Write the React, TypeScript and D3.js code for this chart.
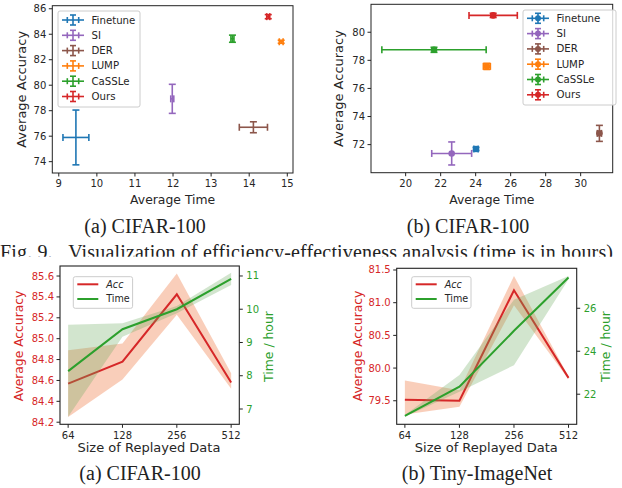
import React from "react";
import * as d3 from "d3";

// methods shared by the two scatter panels
const methods = ["Finetune", "SI", "DER", "LUMP", "CaSSLe", "Ours"];
const methodColors = ["#1f77b4", "#9467bd", "#8c564b", "#ff7f0e", "#2ca02c", "#d62728"];

// (a) CIFAR-100: time vs accuracy
const timeA = [9.45, 11.98, 14.11, 14.84, 13.56, 14.5];
const timeErrA = [0.34, 0.04, 0.37, 0.05, 0.04, 0.04];
const accA = [75.9, 78.93, 76.7, 83.41, 83.65, 85.38];
const accErrA = [2.15, 1.14, 0.43, 0.12, 0.28, 0.16];
const xTicksA = [9, 10, 11, 12, 13, 14, 15];
const yTicksA = [74, 76, 78, 80, 82, 84, 86];

// (b) CIFAR-100: time vs accuracy
const timeB = [24.02, 22.63, 31.07, 24.64, 21.62, 25.0];
const timeErrB = [0.12, 1.14, 0.12, 0.2, 2.98, 1.38];
const accB = [71.69, 71.37, 72.8, 77.57, 78.75, 81.2];
const accErrB = [0.12, 0.82, 0.57, 0.22, 0.18, 0.15];
const xTicksB = [20, 22, 24, 26, 28, 30];
const yTicksB = [72, 74, 76, 78, 80];

// replay size study
const replaySizes = ["64", "128", "256", "512"];

const cifarAcc = [84.57, 84.78, 85.425, 84.58];
const cifarAccLo = [84.25, 84.61, 85.23, 84.52];
const cifarAccHi = [84.89, 84.955, 85.625, 84.67];
const cifarTime = [8.14, 9.4, 10.0, 10.91];
const cifarTimeLo = [6.77, 9.17, 9.88, 10.73];
const cifarTimeHi = [9.53, 9.58, 10.1, 11.1];
const cifarAccTicks = [84.2, 84.4, 84.6, 84.8, 85.0, 85.2, 85.4, 85.6];
const cifarTimeTicks = [7, 8, 9, 10, 11];

const tinyAcc = [79.515, 79.5, 81.19, 79.85];
const tinyAccLo = [79.29, 79.41, 80.96, 79.83];
const tinyAccHi = [79.81, 79.66, 81.41, 79.87];
const tinyTime = [20.99, 22.35, 24.95, 27.43];
const tinyTimeLo = [20.95, 22.12, 23.35, 27.35];
const tinyTimeHi = [21.03, 22.9, 26.4, 27.5];
const tinyAccTicks = [79.5, 80.0, 80.5, 81.0, 81.5];
const tinyTimeTicks = [22, 24, 26];

const FONT = "'DejaVu Sans', sans-serif";
const SERIF = "'Liberation Serif', 'Times New Roman', serif";
const RED = "#d62728";
const GREEN = "#2ca02c";
const INK = "#262626";

function ScatterPanel(props: any) {
  const { xDomain, xRange, yDomain, yRange, xTicks, yTicks, xs, xErr, ys, yErr, markers, legend, yLabelX } = props;
  const x = d3.scaleLinear().domain(xDomain).range(xRange);
  const y = d3.scaleLinear().domain(yDomain).range(yRange);
  const [x0, x1] = xRange;
  const [y1, y0] = yRange; // y1 bottom, y0 top
  const cap = 3.5;
  return (
    <g>
      {methods.map((m, i) => {
        const cx = x(xs[i]);
        const cy = y(ys[i]);
        const xa = x(xs[i] - xErr[i]);
        const xb = x(xs[i] + xErr[i]);
        const ya = y(ys[i] - yErr[i]);
        const yb = y(ys[i] + yErr[i]);
        const c = methodColors[i];
        return (
          <g key={m} stroke={c} strokeWidth={1.6} fill="none">
            <line x1={xa} x2={xb} y1={cy} y2={cy} />
            <line x1={xa} x2={xa} y1={cy - cap} y2={cy + cap} />
            <line x1={xb} x2={xb} y1={cy - cap} y2={cy + cap} />
            <line x1={cx} x2={cx} y1={ya} y2={yb} />
            <line x1={cx - cap} x2={cx + cap} y1={ya} y2={ya} />
            <line x1={cx - cap} x2={cx + cap} y1={yb} y2={yb} />
            {markers && <circle cx={cx} cy={cy} r={3.3} fill={c} stroke="none" />}
          </g>
        );
      })}
      <rect x={x0} y={y0} width={x1 - x0} height={y1 - y0} fill="none" stroke="#222" strokeWidth={1} />
      {xTicks.map((t: number) => (
        <g key={"x" + t}>
          <line x1={x(t)} x2={x(t)} y1={y1} y2={y1 + 3.5} stroke="#222" />
          <text x={x(t)} y={y1 + 14} textAnchor="middle" fontSize={10} fontFamily={FONT} fill={INK}>
            {t}
          </text>
        </g>
      ))}
      {yTicks.map((t: number) => (
        <g key={"y" + t}>
          <line x1={x0 - 3.5} x2={x0} y1={y(t)} y2={y(t)} stroke="#222" />
          <text x={x0 - 6} y={y(t)} dy="0.35em" textAnchor="end" fontSize={10} fontFamily={FONT} fill={INK}>
            {t}
          </text>
        </g>
      ))}
      <text x={(x0 + x1) / 2} y={204} textAnchor="middle" fontSize={12.4} fontFamily={FONT} fill={INK}>
        Average Time
      </text>
      <text
        transform={`translate(${yLabelX},${(y0 + y1) / 2}) rotate(-90)`}
        dy="0.35em"
        textAnchor="middle"
        fontSize={13}
        fontFamily={FONT}
        fill={INK}
      >
        Average Accuracy
      </text>
      <g>
        <rect x={legend.x} y={legend.y} width={legend.w} height={legend.h} rx={2} fill="#fff" fillOpacity={0.8} stroke="#ccc" />
        {methods.map((m, i) => {
          const cy = legend.rowY + i * 15.3;
          const gx = legend.x + 4;
          const cx = gx + 11;
          const c = methodColors[i];
          return (
            <g key={"l" + m}>
              <g stroke={c} strokeWidth={1.6}>
                <line x1={gx} x2={gx + 22} y1={cy} y2={cy} />
                <line x1={cx - 5.7} x2={cx - 5.7} y1={cy - 3} y2={cy + 3} />
                <line x1={cx + 5.7} x2={cx + 5.7} y1={cy - 3} y2={cy + 3} />
                <line x1={cx} x2={cx} y1={cy - 5} y2={cy + 5} />
                <line x1={cx - 3} x2={cx + 3} y1={cy - 5} y2={cy - 5} />
                <line x1={cx - 3} x2={cx + 3} y1={cy + 5} y2={cy + 5} />
              </g>
              {markers && <circle cx={cx} cy={cy} r={3} fill={c} />}
              <text x={legend.x + 33.5} y={cy} dy="0.35em" fontSize={10.2} fontFamily={FONT} fill={INK}>
                {m}
              </text>
            </g>
          );
        })}
      </g>
    </g>
  );
}

function ReplayPanel(props: any) {
  const { xRange, yRange, accDomain, timeDomain, acc, accLo, accHi, time, timeLo, timeHi, accTicks, timeTicks, accFmt, labels, legendX } = props;
  const xs = d3.scaleLinear().domain([-0.15, replaySizes.length - 1 + 0.15]).range(xRange);
  const px = (i: number) => xs(i);
  const yA = d3.scaleLinear().domain(accDomain).range(yRange);
  const yT = d3.scaleLinear().domain(timeDomain).range(yRange);
  const [x0, x1] = xRange;
  const [y1, y0] = yRange;
  const idx = replaySizes.map((_, i) => i);

  const accArea = d3.area<number>().x((i) => px(i)).y0((i) => yA(accLo[i])).y1((i) => yA(accHi[i]));
  const accLine = d3.line<number>().x((i) => px(i)).y((i) => yA(acc[i]));
  const timeArea = d3.area<number>().x((i) => px(i)).y0((i) => yT(timeLo[i])).y1((i) => yT(timeHi[i]));
  const timeLine = d3.line<number>().x((i) => px(i)).y((i) => yT(time[i]));

  return (
    <g>
      <path d={accArea(idx) || ""} fill="#f4a582" fillOpacity={0.55} />
      <path d={accLine(idx) || ""} fill="none" stroke={RED} strokeWidth={2} />
      <path d={timeArea(idx) || ""} fill="#6aaa5e" fillOpacity={0.3} />
      <path d={timeLine(idx) || ""} fill="none" stroke={GREEN} strokeWidth={2} />
      <rect x={x0} y={y0} width={x1 - x0} height={y1 - y0} fill="none" stroke="#222" strokeWidth={1.1} />
      {replaySizes.map((s, i) => (
        <g key={s}>
          <line x1={px(i)} x2={px(i)} y1={y1} y2={y1 + 3.5} stroke="#222" />
          <text x={px(i)} y={y1 + 15} textAnchor="middle" fontSize={10} fontFamily={FONT} fill={INK}>
            {s}
          </text>
        </g>
      ))}
      {accTicks.map((t: number) => (
        <g key={"a" + t}>
          <line x1={x0 - 3.5} x2={x0} y1={yA(t)} y2={yA(t)} stroke="#222" />
          <text x={x0 - 6} y={yA(t)} dy="0.35em" textAnchor="end" fontSize={10} fontFamily={FONT} fill={RED}>
            {d3.format(accFmt)(t)}
          </text>
        </g>
      ))}
      {timeTicks.map((t: number) => (
        <g key={"t" + t}>
          <line x1={x1} x2={x1 + 3.5} y1={yT(t)} y2={yT(t)} stroke="#222" />
          <text x={x1 + 7} y={yT(t)} dy="0.35em" textAnchor="start" fontSize={10} fontFamily={FONT} fill={GREEN}>
            {t}
          </text>
        </g>
      ))}
      <text x={(x0 + x1) / 2 + labels.xShift} y={452} textAnchor="middle" fontSize={13} fontFamily={FONT} fill={INK}>
        Size of Replayed Data
      </text>
      <text transform={`translate(${labels.left},346) rotate(-90)`} dy="0.35em" textAnchor="middle" fontSize={12.3} fontFamily={FONT} fill={RED}>
        Average Accuracy
      </text>
      <text transform={`translate(${labels.right},346.5) rotate(-90)`} dy="0.35em" textAnchor="middle" fontSize={12.4} fontFamily={FONT} fill={GREEN}>
        Time / hour
      </text>
      <g>
        <rect x={legendX} y={276.7} width={59.3} height={31.6} rx={2} fill="#fff" fillOpacity={0.8} stroke="#ccc" />
        <line x1={legendX + 4} x2={legendX + 25} y1={284.3} y2={284.3} stroke={RED} strokeWidth={2} />
        <text x={legendX + 33} y={284.3} dy="0.35em" fontSize={9.6} fontStyle="italic" fontFamily={FONT} fill={INK}>
          Acc
        </text>
        <line x1={legendX + 4} x2={legendX + 25} y1={299} y2={299} stroke={GREEN} strokeWidth={2} />
        <text x={legendX + 33} y={299} dy="0.35em" fontSize={9.6} fontFamily={FONT} fill={INK}>
          Time
        </text>
      </g>
    </g>
  );
}

export default function App() {
  return (
    <svg width={622} height={488} style={{ position: "absolute", left: 0, top: 0, background: "#fff" }}>
      <rect width={622} height={488} fill="#fff" />
      <ScatterPanel
        xDomain={[8.83, 15.15]}
        xRange={[52.3, 293]}
        yDomain={[73.11, 86.24]}
        yRange={[173, 5.7]}
        xTicks={xTicksA}
        yTicks={yTicksA}
        xs={timeA}
        xErr={timeErrA}
        ys={accA}
        yErr={accErrA}
        markers={false}
        legend={{ x: 58, y: 11, w: 82, h: 96, rowY: 20 }}
        yLabelX={21.7}
      />
      <ScatterPanel
        xDomain={[18.02, 31.83]}
        xRange={[371, 612.7]}
        yDomain={[70.0, 81.99]}
        yRange={[172.7, 4.3]}
        xTicks={xTicksB}
        yTicks={yTicksB}
        xs={timeB}
        xErr={timeErrB}
        ys={accB}
        yErr={accErrB}
        markers={true}
        legend={{ x: 523, y: 10, w: 93, h: 95, rowY: 18.3 }}
        yLabelX={338.5}
      />
      <text x={145} y={233} textAnchor="middle" fontSize={20} fontFamily={SERIF} fill="#222">
        (a) CIFAR-100
      </text>
      <text x={468} y={233} textAnchor="middle" fontSize={20} fontFamily={SERIF} fill="#222">
        (b) CIFAR-100
      </text>
      <defs>
        <clipPath id="capClip">
          <rect x={0} y={238} width={622} height={18.7} />
        </clipPath>
      </defs>
      <text clipPath="url(#capClip)" x={0} y={258.5} fontSize={20} fontFamily={SERIF} fill="#222" textLength={613} lengthAdjust="spacing">
        Fig. 9.{"\u00a0\u00a0\u00a0"}Visualization of efficiency-effectiveness analysis (time is in hours)
      </text>
      <ReplayPanel
        xRange={[60, 239.3]}
        yRange={[424.3, 266]}
        accDomain={[84.18, 85.696]}
        timeDomain={[6.54, 11.3]}
        acc={cifarAcc}
        accLo={cifarAccLo}
        accHi={cifarAccHi}
        time={cifarTime}
        timeLo={cifarTimeLo}
        timeHi={cifarTimeHi}
        accTicks={cifarAccTicks}
        timeTicks={cifarTimeTicks}
        accFmt=".1f"
        labels={{ left: 19, right: 269, xShift: -0.7 }}
        legendX={73.3}
      />
      <ReplayPanel
        xRange={[396.7, 576.7]}
        yRange={[424.3, 268.3]}
        accDomain={[79.14, 81.526]}
        timeDomain={[20.6, 27.86]}
        acc={tinyAcc}
        accLo={tinyAccLo}
        accHi={tinyAccHi}
        time={tinyTime}
        timeLo={tinyTimeLo}
        timeHi={tinyTimeHi}
        accTicks={tinyAccTicks}
        timeTicks={tinyTimeTicks}
        accFmt=".1f"
        labels={{ left: 357.5, right: 606, xShift: -0.4 }}
        legendX={411.7}
      />
      <text x={140} y={480} textAnchor="middle" fontSize={20} fontFamily={SERIF} fill="#222">
        (a) CIFAR-100
      </text>
      <text x={477} y={480} textAnchor="middle" fontSize={20} fontFamily={SERIF} fill="#222">
        (b) Tiny-ImageNet
      </text>
    </svg>
  );
}
